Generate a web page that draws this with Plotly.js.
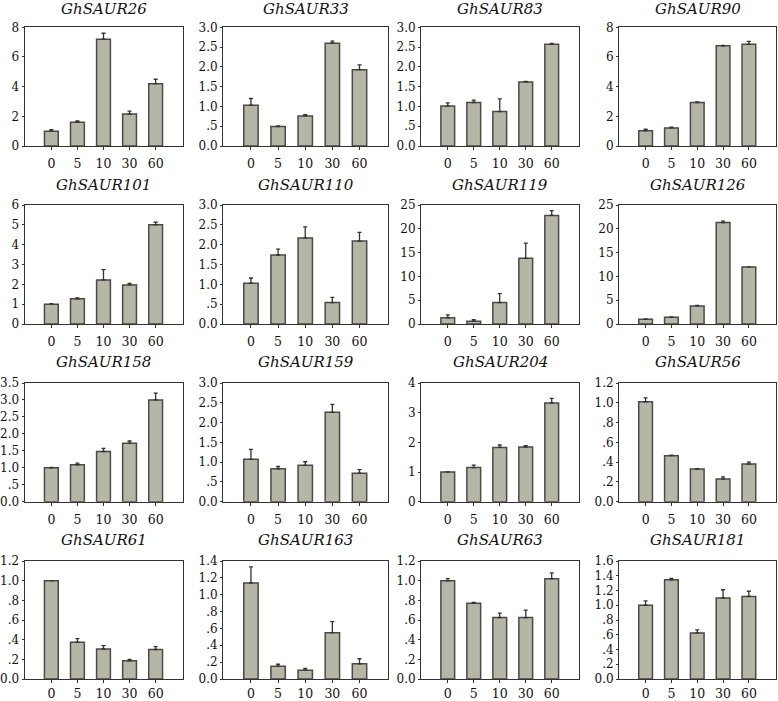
<!DOCTYPE html>
<html>
<head>
<meta charset="utf-8">
<script src="https://cdn.plot.ly/plotly-3.0.1.min.js"></script>
<style>
  body { margin: 0; background: #fff; }
  #myChart { width: 778px; height: 701px; }
</style>
</head>
<body>
<div id="myChart"></div>
<script>
// time points (min)
var times = ['0', '5', '10', '30', '60'];

var genes = ['GhSAUR26', 'GhSAUR33', 'GhSAUR83', 'GhSAUR90',
             'GhSAUR101', 'GhSAUR110', 'GhSAUR119', 'GhSAUR126',
             'GhSAUR158', 'GhSAUR159', 'GhSAUR204', 'GhSAUR56',
             'GhSAUR61', 'GhSAUR163', 'GhSAUR63', 'GhSAUR181'];

// relative expression, mean and SE (upper bar only)
var saur26 = [1.0, 1.6, 7.2, 2.15, 4.2];      var saur26Err = [0.1, 0.1, 0.4, 0.2, 0.3];
var saur33 = [1.03, 0.49, 0.76, 2.6, 1.93];   var saur33Err = [0.17, 0.02, 0.03, 0.05, 0.12];
var saur83 = [1.01, 1.1, 0.87, 1.62, 2.57];   var saur83Err = [0.08, 0.06, 0.32, 0.01, 0.02];
var saur90 = [1.03, 1.22, 2.93, 6.75, 6.85];  var saur90Err = [0.1, 0.05, 0.05, 0.03, 0.2];
var saur101 = [1.0, 1.27, 2.22, 1.97, 5.0];   var saur101Err = [0.03, 0.04, 0.52, 0.08, 0.13];
var saur110 = [1.03, 1.74, 2.17, 0.54, 2.09]; var saur110Err = [0.13, 0.15, 0.28, 0.13, 0.22];
var saur119 = [1.3, 0.6, 4.5, 13.8, 22.8];    var saur119Err = [0.6, 0.3, 1.9, 3.2, 1.0];
var saur126 = [1.0, 1.4, 3.8, 21.3, 12.0];    var saur126Err = [0.05, 0.1, 0.1, 0.3, 0.0];
var saur158 = [1.0, 1.09, 1.48, 1.72, 3.0];   var saur158Err = [0.01, 0.05, 0.09, 0.07, 0.2];
var saur159 = [1.07, 0.83, 0.92, 2.26, 0.72]; var saur159Err = [0.25, 0.06, 0.09, 0.2, 0.09];
var saur204 = [1.0, 1.15, 1.83, 1.84, 3.33];  var saur204Err = [0.0, 0.08, 0.08, 0.05, 0.15];
var saur56 = [1.01, 0.465, 0.33, 0.23, 0.38]; var saur56Err = [0.04, 0.005, 0.003, 0.02, 0.02];
var saur61 = [1.0, 0.375, 0.305, 0.185, 0.3]; var saur61Err = [0.0, 0.035, 0.035, 0.015, 0.03];
var saur163 = [1.14, 0.15, 0.105, 0.55, 0.18];var saur163Err = [0.19, 0.025, 0.02, 0.13, 0.06];
var saur63 = [1.0, 0.77, 0.625, 0.625, 1.02]; var saur63Err = [0.02, 0.01, 0.045, 0.075, 0.06];
var saur181 = [1.0, 1.345, 0.625, 1.1, 1.12]; var saur181Err = [0.06, 0.02, 0.04, 0.11, 0.07];

// y axis top and tick step of each panel
var yTops  = [8, 3, 3, 8, 6, 3, 25, 25, 3.5, 3, 4, 1.2, 1.2, 1.4, 1.2, 1.6];
var ySteps = [2, 0.5, 0.5, 2, 1, 0.5, 5, 5, 0.5, 0.5, 1, 0.2, 0.2, 0.2, 0.2, 0.2];

var means = [saur26, saur33, saur83, saur90, saur101, saur110, saur119, saur126,
             saur158, saur159, saur204, saur56, saur61, saur163, saur63, saur181];
var errs = [saur26Err, saur33Err, saur83Err, saur90Err, saur101Err, saur110Err, saur119Err, saur126Err,
            saur158Err, saur159Err, saur204Err, saur56Err, saur61Err, saur163Err, saur63Err, saur181Err];

// frame positions in pixels
var W = 778, H = 701;
var colX = [[24.5, 183], [223, 388], [421, 579], [619, 776]];
var rowY = [[27.3, 146], [205, 324], [383, 501.7], [561, 679]];
var titleY = [9, 185, 362, 540];
var serif = 'DejaVu Serif';

function tickLabel(v, step) {
  if (step >= 1) return String(v);
  var s = v.toFixed(1);
  if (v > 0 && v < 1) s = s.substring(1);
  return s;
}

var data = [];
var layout = {
  width: W, height: H,
  margin: {l: 0, r: 0, t: 0, b: 0},
  paper_bgcolor: '#fff',
  plot_bgcolor: '#fff',
  showlegend: false,
  font: {family: serif, size: 12, color: '#111'},
  annotations: []
};

for (var i = 0; i < genes.length; i++) {
  var r = Math.floor(i / 4), c = i % 4;
  var n = i + 1;
  var sfx = (n === 1 ? '' : String(n));

  data.push({
    type: 'bar',
    x: times,
    y: means[i],
    xaxis: 'x' + sfx,
    yaxis: 'y' + sfx,
    width: 0.53,
    marker: {color: '#b6b6a6', line: {color: '#4a4a48', width: 1.5}},
    error_y: {
      type: 'data', symmetric: false,
      array: errs[i], arrayminus: times.map(function () { return 0; }),
      color: '#333', thickness: 1.3, width: 2
    },
    hoverinfo: 'x+y'
  });

  var tv = [], tt = [];
  var k = Math.round(yTops[i] / ySteps[i]);
  for (var j = 0; j <= k; j++) {
    var v = Math.round(j * ySteps[i] * 100) / 100;
    tv.push(v);
    tt.push(tickLabel(v, ySteps[i]));
  }

  layout['xaxis' + sfx] = {
    domain: [colX[c][0] / W, colX[c][1] / W],
    anchor: 'y' + sfx,
    type: 'category',
    range: [-1.03, 5.05],
    showline: true, mirror: true, linecolor: '#333', linewidth: 1,
    showgrid: false, zeroline: false,
    ticks: 'outside', ticklen: 3, tickcolor: '#333',
    ticklabelstandoff: r === 3 ? 0 : 3,
    tickfont: {family: serif, size: 12.5, color: '#111'},
    fixedrange: true
  };
  layout['yaxis' + sfx] = {
    domain: [1 - rowY[r][1] / H, 1 - rowY[r][0] / H],
    anchor: 'x' + sfx,
    range: [0, yTops[i]],
    tickmode: 'array', tickvals: tv, ticktext: tt,
    showline: true, mirror: true, linecolor: '#333', linewidth: 1,
    showgrid: false, zeroline: false,
    ticks: 'outside', ticklen: 2, tickcolor: '#333',
    tickfont: {family: serif, size: 12, color: '#111'},
    fixedrange: true
  };

  layout.annotations.push({
    text: genes[i],
    xref: 'paper', yref: 'paper',
    x: (colX[c][0] + colX[c][1]) / 2 / W,
    y: 1 - titleY[r] / H,
    xanchor: 'center', yanchor: 'middle',
    showarrow: false,
    font: {family: serif, size: 15, style: 'italic', color: '#111'}
  });
}

Plotly.newPlot('myChart', data, layout, {displayModeBar: false, staticPlot: true});
</script>
</body>
</html>
